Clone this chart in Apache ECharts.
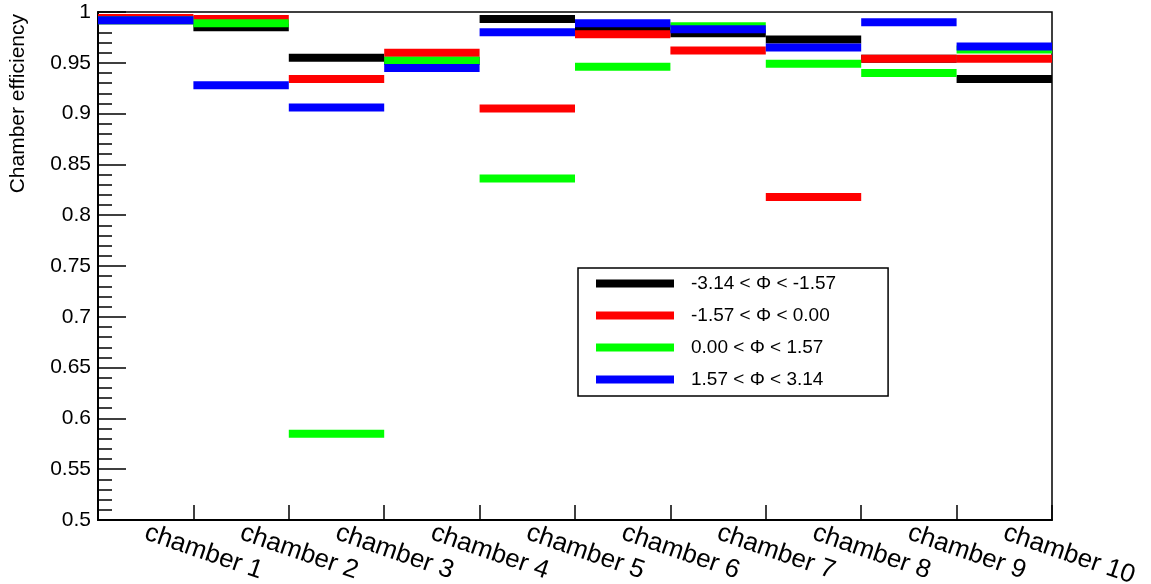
<!DOCTYPE html>
<html>
<head>
<meta charset="utf-8">
<script src="https://cdn.jsdelivr.net/npm/echarts@6/dist/echarts.min.js"></script>
<style>
html,body{margin:0;padding:0;background:#fff;}
#chart{width:1151px;height:584px;}
</style>
</head>
<body>
<div id="chart"></div>
<script>
const categories = ['chamber 1','chamber 2','chamber 3','chamber 4','chamber 5','chamber 6','chamber 7','chamber 8','chamber 9','chamber 10'];
const seriesNames = ['-3.14 < \u03A6 < -1.57','-1.57 < \u03A6 < 0.00','0.00 < \u03A6 < 1.57','1.57 < \u03A6 < 3.14'];
const blackValues = [0.992, 0.985, 0.955, 0.952, 0.993, 0.984, 0.979, 0.973, 0.954, 0.934];
const redValues   = [0.994, 0.993, 0.934, 0.960, 0.905, 0.978, 0.962, 0.818, 0.954, 0.954];
const greenValues = [0.992, 0.989, 0.585, 0.952, 0.836, 0.946, 0.986, 0.949, 0.940, 0.963];
const blueValues  = [0.992, 0.928, 0.906, 0.945, 0.980, 0.989, 0.983, 0.965, 0.990, 0.966];
const colors = ['#000000','#ff0000','#00ff00','#0000ff'];
const allValues = [blackValues, redValues, greenValues, blueValues];

const FONT = '"Liberation Sans", Arial, Helvetica, sans-serif';

function renderBar(params, api) {
  const idx = api.value(0);
  const v = api.value(1);
  const c = api.coord([idx, v]);
  const w = api.size([1, 0])[0];
  const h = 8;
  return {
    type: 'rect',
    shape: { x: c[0] - w / 2, y: c[1] - h / 2, width: w, height: h },
    style: { fill: api.visual('color') }
  };
}

const series = allValues.map((vals, k) => ({
  name: seriesNames[k],
  type: 'custom',
  renderItem: renderBar,
  itemStyle: { color: colors[k] },
  encode: { x: 0, y: 1 },
  data: vals.map((v, i) => [i, v]),
  z: 2 + k,
  clip: true
}));

const chart = echarts.init(document.getElementById('chart'), null, { renderer: 'canvas' });
chart.setOption({
  animation: false,
  backgroundColor: '#ffffff',
  textStyle: { fontFamily: FONT },
  grid: {
    left: 98, right: 99, top: 12, bottom: 64,
    containLabel: false,
    outerBoundsMode: 'none',
    show: true, borderColor: '#000', borderWidth: 1.5, backgroundColor: 'transparent'
  },
  legend: {
    left: 578, top: 268,
    orient: 'vertical',
    icon: 'rect',
    itemWidth: 78, itemHeight: 8,
    itemGap: 13,
    padding: [6, 52, 7, 18],
    borderColor: '#000', borderWidth: 1.5,
    backgroundColor: '#fff',
    selectedMode: false,
    textStyle: { fontFamily: FONT, fontSize: 19, color: '#000', padding: [0, 0, 0, 12] },
    data: seriesNames
  },
  xAxis: {
    type: 'category',
    data: categories,
    boundaryGap: true,
    axisLine: { lineStyle: { color: '#000', width: 2 } },
    axisTick: { show: true, inside: true, length: 15, alignWithLabel: false, lineStyle: { color: '#000', width: 1.5 } },
    axisLabel: {
      rotate: -19, margin: 12, interval: 0,
      fontFamily: FONT, fontSize: 26, color: '#000'
    },
    splitLine: { show: false }
  },
  yAxis: {
    type: 'value',
    min: 0.5, max: 1, interval: 0.05,
    axisLine: { show: true, lineStyle: { color: '#000', width: 2 } },
    axisTick: { show: true, inside: true, length: 28, lineStyle: { color: '#000', width: 1.5 } },
    minorTick: { show: true, splitNumber: 5, length: 14, lineStyle: { color: '#000', width: 1.5 } },
    axisLabel: { margin: 7, fontFamily: FONT, fontSize: 21, color: '#000' },
    splitLine: { show: false }
  },
  graphic: [{
    type: 'text',
    x: 18, y: 14,
    rotation: Math.PI / 2,
    style: {
      text: 'Chamber efficiency',
      font: '21px ' + FONT,
      fill: '#000',
      align: 'right',
      verticalAlign: 'middle'
    }
  }],
  series: series
});
</script>
</body>
</html>
